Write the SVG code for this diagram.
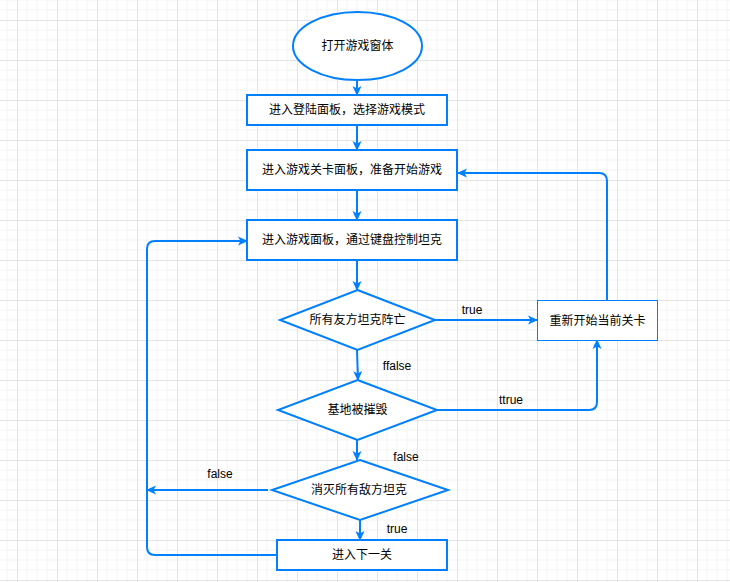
<svg xmlns="http://www.w3.org/2000/svg" width="730" height="582" viewBox="0 0 730 582">
<defs>
<pattern id="grid" x="17" y="20" width="40" height="40" patternUnits="userSpaceOnUse">
<path d="M10,0V40M20,0V40M30,0V40M0,10H40M0,20H40M0,30H40" stroke="#f3f3f3" stroke-width="1" fill="none"/>
<path d="M0.5,0V40M0,0.5H40" stroke="#e4e4e4" stroke-width="1" fill="none"/>
</pattern>
<marker id="arr" viewBox="0 0 10 10" refX="9" refY="5" markerWidth="10" markerHeight="10" markerUnits="userSpaceOnUse" orient="auto">
<path d="M0,0.5 L10,5 L0,9.5 L2.5,5 z" fill="#007FFF"/>
</marker>
<style>
.n{fill:#fff;stroke:#007FFF;stroke-width:2}
.thin{fill:#fff;stroke:#007FFF;stroke-width:1}
.c{fill:none;stroke:#007FFF;stroke-width:2;marker-end:url(#arr)}
text{font-family:"Liberation Sans","Noto Sans CJK SC",sans-serif;font-size:12px;fill:#000;text-anchor:middle;dominant-baseline:central}
</style>
</defs>
<rect width="730" height="582" fill="#fff"/>
<rect width="730" height="582" fill="url(#grid)"/>
<g id="connectors">
<path class="c" d="M357,80 V95"/>
<path class="c" d="M357,125 V150"/>
<path class="c" d="M357,190 V220"/>
<path class="c" d="M357,260 V290"/>
<path class="c" d="M435,320 H537"/>
<path class="c" d="M607,300 V181 Q607,173 599,173 H458"/>
<path class="c" d="M357,350 L358,380"/>
<path class="c" d="M437,410 H589 Q597,410 597,402 V340"/>
<path class="c" d="M357,440 V460"/>
<path class="c" d="M268,490 H147"/>
<path class="c" d="M360,520 V540"/>
<path class="c" d="M277,555 H155 Q147,555 147,547 V249 Q147,241 155,241 H247"/>
<text x="472" y="310">true</text>
<text x="397" y="366">ffalse</text>
<text x="511" y="400">ttrue</text>
<text x="406" y="457">false</text>
<text x="220" y="474">false</text>
<text x="397" y="529">true</text>
</g>
<g id="start"><ellipse class="n" cx="357.5" cy="46" rx="64.5" ry="34"/><text x="357.5" y="46">打开游戏窗体</text></g>
<g id="login"><rect class="n" x="247" y="95" width="200" height="30"/><text x="347" y="110">进入登陆面板，选择游戏模式</text></g>
<g id="level"><rect class="n" x="247" y="150" width="210" height="40"/><text x="352" y="170">进入游戏关卡面板，准备开始游戏</text></g>
<g id="game"><rect class="n" x="247" y="220" width="210" height="40"/><text x="352" y="240">进入游戏面板，通过键盘控制坦克</text></g>
<g id="allDead"><polygon class="n" points="357.5,290 435,320 357.5,350 280,320"/><text x="357.5" y="320">所有友方坦克阵亡</text></g>
<g id="restart"><rect class="thin" x="537.5" y="300.5" width="120" height="40"/><text x="597.5" y="320.5">重新开始当前关卡</text></g>
<g id="base"><polygon class="n" points="357.5,380 437,410 357.5,440 278,410"/><text x="357.5" y="410">基地被摧毁</text></g>
<g id="kill"><polygon class="n" points="360,460 448,490 360,520 272,490"/><text x="359" y="490">消灭所有敌方坦克</text></g>
<g id="next"><rect class="n" x="277" y="540" width="170" height="30"/><text x="362" y="555">进入下一关</text></g>
</svg>
